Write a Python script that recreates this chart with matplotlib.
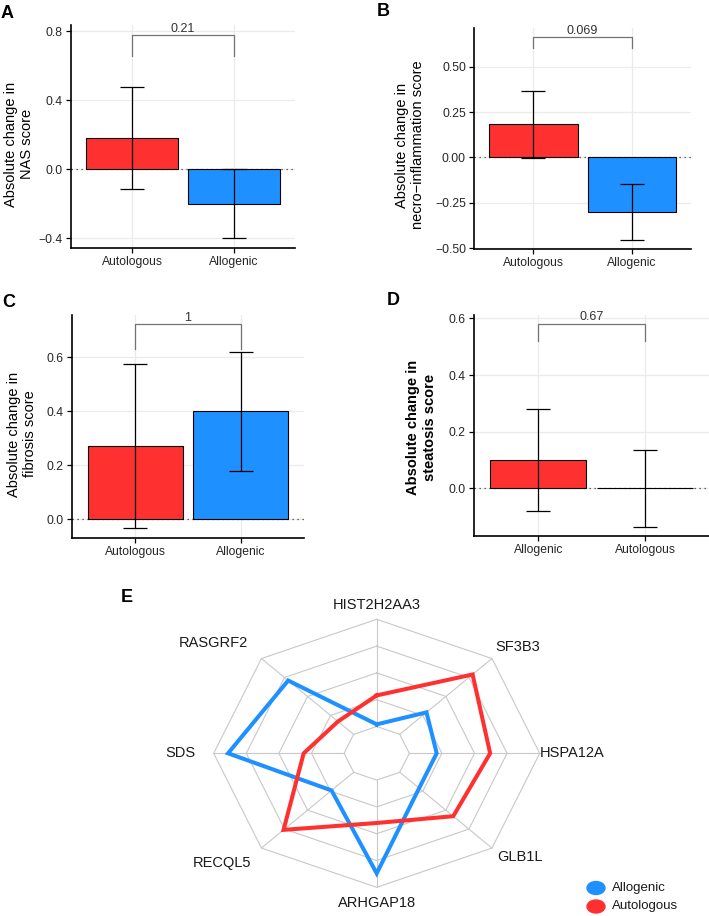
import matplotlib
matplotlib.use("Agg")
import matplotlib.pyplot as plt
from matplotlib.patches import Ellipse
import numpy as np

plt.rcParams['font.family'] = ['Liberation Sans', 'DejaVu Sans']

# bar panels
groups_abc = ["Autologous", "Allogenic"]
groups_d = ["Allogenic", "Autologous"]

nas_mean = [0.18, -0.20]
nas_err = [0.295, 0.20]
nas_p = "0.21"

necro_mean = [0.182, -0.30]
necro_err = [0.184, 0.152]
necro_p = "0.069"

fib_mean = [0.273, 0.40]
fib_err = [0.304, 0.221]
fib_p = "1"

stea_mean = [0.10, 0.0]
stea_err = [0.18, 0.135]
stea_p = "0.67"

# radar panel
genes = ["HIST2H2AA3", "SF3B3", "HSPA12A", "GLB1L", "ARHGAP18", "RECQL5", "SDS", "RASGRF2"]
allogenic = [0.02, 0.29, 0.21, 0.21, 0.87, 0.24, 0.89, 0.71]
autologous = [0.29, 0.79, 0.62, 0.58, 0.40, 0.76, 0.31, 0.17]

RED = "#FF3030"
BLUE = "#1E90FF"

W, H = 709, 916
fig = plt.figure(figsize=(W / 100, H / 100), dpi=100)


def box(left, top, right, bottom):
    return [left / W, 1 - bottom / H, (right - left) / W, (bottom - top) / H]


def bar_panel(rect, cats, means, errs, ylim, yticks, fmt, pval, br_y, br_tip):
    ax = fig.add_axes(box(*rect))
    x = np.arange(len(cats))
    ax.set_xlim(-0.6, len(cats) - 0.4)
    ax.set_ylim(*ylim)
    ax.grid(True, color="#EBEBEB", lw=0.9, zorder=0)
    ax.set_axisbelow(True)
    ax.axhline(0, color="0.25", lw=0.9, ls=(0, (1, 3)), zorder=1)
    ax.bar(x, means, width=0.9, color=[RED, BLUE], edgecolor="black", lw=0.8, zorder=2)
    ax.errorbar(x, means, yerr=errs, fmt="none", ecolor="black", elinewidth=0.9,
                capsize=8.5, capthick=0.9, zorder=3)
    ax.plot([x[0], x[0], x[1], x[1]], [br_tip, br_y, br_y, br_tip], color="0.45", lw=0.9, zorder=3)
    ax.text((x[0] + x[1]) / 2, br_y, pval, ha="center", va="bottom", fontsize=9, color="0.2")
    ax.set_xticks(x)
    ax.set_xticklabels(cats)
    ax.set_yticks(yticks)
    ax.set_yticklabels([fmt.format(t).replace("-", "\u2212") for t in yticks])
    for s in ["top", "right"]:
        ax.spines[s].set_visible(False)
    for s in ["left", "bottom"]:
        ax.spines[s].set_linewidth(1.2)
    ax.tick_params(length=3.5, width=0.9, labelsize=8.7, labelcolor="0.15", pad=2.5)
    return ax


bar_panel((71, 25, 295, 247.7), groups_abc, nas_mean, nas_err, (-0.456, 0.835),
          [-0.4, 0.0, 0.4, 0.8], "{:.1f}", nas_p, 0.779, 0.657)
bar_panel((474.3, 28.3, 691, 248.7), groups_abc, necro_mean, necro_err, (-0.502, 0.711),
          [-0.5, -0.25, 0.0, 0.25, 0.5], "{:.2f}", necro_p, 0.662, 0.604)
bar_panel((71.7, 315, 304, 537.7), groups_abc, fib_mean, fib_err, (-0.068, 0.757),
          [0.0, 0.2, 0.4, 0.6], "{:.1f}", fib_p, 0.722, 0.63)
bar_panel((474.3, 315, 709, 536), groups_d, stea_mean, stea_err, (-0.168, 0.612),
          [0.0, 0.2, 0.4, 0.6], "{:.1f}", stea_p, 0.582, 0.52)

# y labels
fig.text(19 / W, 1 - 144 / H, "Absolute change in\nNAS score", rotation=90,
         ha="center", va="center", fontsize=10.5, multialignment="center")
fig.text(410 / W, 1 - 145 / H, "Absolute change in\nnecro\u2212inflammation score", rotation=90,
         ha="center", va="center", fontsize=10.5, multialignment="center")
fig.text(22.3 / W, 1 - 434 / H, "Absolute change in\nfibrosis score", rotation=90,
         ha="center", va="center", fontsize=10.5, multialignment="center")
fig.text(421.5 / W, 1 - 427.5 / H, "Absolute change in\nsteatosis score", rotation=90,
         ha="center", va="center", fontsize=10.5, multialignment="center", fontweight="bold")

# panel letters
for letter, px, py in [("A", 7, 13), ("B", 383, 12), ("C", 8.3, 302.7),
                       ("D", 393.3, 300.7), ("E", 126.7, 597.3)]:
    fig.text(px / W, 1 - py / H, letter, ha="center", va="center", fontsize=13, fontweight="bold")

# radar chart
rax = fig.add_axes(box(213.7, 619.3, 539.7, 887.3))
rax.set_xlim(-1, 1)
rax.set_ylim(-1, 1)
rax.axis("off")
n = len(genes)
theta = np.arange(n) * 2 * np.pi / n
sx, sy = np.sin(theta), np.cos(theta)
for r in [0.2, 0.4, 0.6, 0.8, 1.0]:
    rax.plot(np.append(r * sx, r * sx[0]), np.append(r * sy, r * sy[0]), color="#C8C8C8", lw=0.8,
             clip_on=False, zorder=1)
for i in range(n):
    rax.plot([0.2 * sx[i], sx[i]], [0.2 * sy[i], sy[i]], color="#C8C8C8", lw=0.8, clip_on=False, zorder=1)

for vals, col in [(allogenic, BLUE), (autologous, RED)]:
    r = 0.2 + 0.8 * np.array(vals)
    rax.plot(np.append(r * sx, r[0] * sx[0]), np.append(r * sy, r[0] * sy[0]), color=col, lw=2.9,
             solid_joinstyle="miter", clip_on=False, zorder=2)

label_xy = [(0, 1.107), (0.867, 0.793), (1.198, 0), (0.88, -0.772),
            (0, -1.116), (-0.949, -0.818), (-1.206, 0), (-1.003, 0.823)]
for g, (lx, ly) in zip(genes, label_xy):
    rax.text(lx, ly, g, ha="center", va="center", fontsize=10.5, color="0.1", clip_on=False)

# legend
for name, col, py in [("Allogenic", BLUE, 888), ("Autologous", RED, 906.5)]:
    fig.add_artist(Ellipse((596 / 100, (H - py) / 100), 0.18, 0.13, color=col,
                           transform=fig.dpi_scale_trans))
    fig.text(612 / W, 1 - py / H, name, ha="left", va="center", fontsize=9.5, color="0.1")

fig.savefig("out.png", dpi=100)
